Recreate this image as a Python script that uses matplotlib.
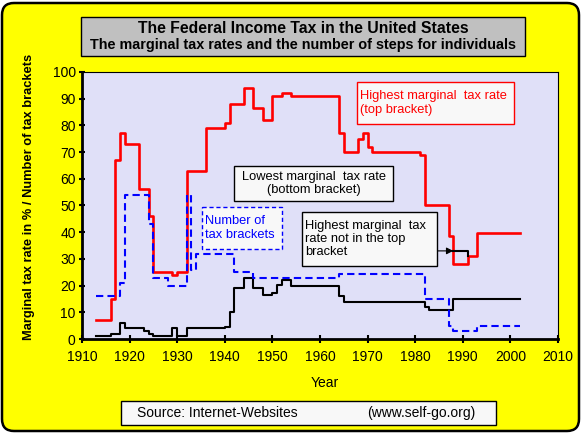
import matplotlib
matplotlib.use("Agg")
import matplotlib.pyplot as plt
from matplotlib.patches import Rectangle, FancyBboxPatch
from matplotlib.transforms import Affine2D

plt.rcParams['font.family'] = ['Liberation Sans', 'DejaVu Sans']

# Highest marginal tax rate (top bracket), value valid from the given year on
years_top = [1913, 1916, 1917, 1918, 1919, 1922, 1924, 1925, 1929, 1930, 1932,
             1936, 1940, 1941, 1944, 1946, 1948, 1950, 1952, 1954, 1964, 1965,
             1968, 1969, 1970, 1971, 1981, 1982, 1987, 1988, 1991, 1993, 2002]
top_rate = [7, 15, 67, 77, 73, 56, 46, 25, 24, 25, 63,
            79, 81, 88, 94, 86.5, 82, 91, 92, 91, 77, 70,
            75, 77, 72, 70, 69, 50, 38.5, 28, 31, 39.6, 39.6]

# Lowest marginal tax rate (bottom bracket)
years_bottom = [1913, 1916, 1918, 1919, 1923, 1924, 1925, 1929, 1930, 1932,
                1940, 1941, 1942, 1944, 1946, 1948, 1950, 1951, 1952, 1954,
                1964, 1965, 1982, 1983, 1988, 2002]
bottom_rate = [1, 2, 6, 4, 3, 2, 1, 4, 1, 4,
               4.4, 10, 19, 23, 19, 16.6, 17.4, 20.4, 22.2, 20,
               16, 14, 12, 11, 15, 15]

# Number of tax brackets
years_brackets = [1913, 1918, 1919, 1924, 1925, 1928, 1932, 1933, 1934, 1942,
                  1946, 1964, 1982, 1987, 1988, 1993, 2002]
n_brackets = [16, 21, 54, 43, 23, 20, 54, 26, 32, 25,
              23, 24.5, 15, 5, 3, 5, 5]

# Highest marginal tax rate not in the top bracket (1988-1990 "bubble")
years_bubble = [1988, 1991, 1991]
bubble_rate = [33, 33, 31]

W, H = 584, 436
fig = plt.figure(figsize=(W / 100, H / 100), dpi=100)
fig.patch.set_facecolor('white')

# pixel coordinates measured from the top-left corner
pix = Affine2D().scale(1, -1).translate(0, H)

bg = FancyBboxPatch((2, 5), 577, 428, boxstyle="round,pad=0,rounding_size=12",
                    transform=None, facecolor='#ffff00', edgecolor='black',
                    linewidth=1.8, zorder=-5)
fig.add_artist(bg)

ax = fig.add_axes([82 / W, (H - 339) / H, 476 / W, 267 / H])
ax.set_facecolor('#e0e0f8')

ax.step(years_top, top_rate, where='post', color='#ff0000', lw=1.9, zorder=3)
ax.step(years_bottom, bottom_rate, where='post', color='black', lw=1.5, zorder=4)
ax.step(years_brackets, n_brackets, where='post', color='#0000ff', lw=1.5,
        dashes=(3.5, 2), zorder=5)
ax.plot(years_bubble, bubble_rate, color='black', lw=1.5, zorder=6)

ax.set_xlim(1910, 2010)
ax.set_ylim(0, 100)
ax.set_xticks(range(1910, 2011, 10))
ax.set_yticks(range(0, 101, 10))
ax.tick_params(axis='x', direction='inout', length=6, width=1.5, pad=5,
               labelsize=10, color='black')
ax.tick_params(axis='y', direction='inout', length=5, width=1.5, pad=2,
               labelsize=10, color='black')
for s in ['left', 'bottom']:
    ax.spines[s].set_linewidth(2)
for s in ['top', 'right']:
    ax.spines[s].set_linewidth(0.8)

# arrow to the bubble
ax.annotate('', xy=(1988, 33), xytext=(1984.6, 33),
            arrowprops=dict(arrowstyle='-|>', color='black', lw=0.8,
                            mutation_scale=10, shrinkA=0, shrinkB=0),
            zorder=7)


def box(x, y, w, h, ec='black', fc='#f8f8f8', ls='-'):
    fig.add_artist(Rectangle((x, y), w, h, transform=pix, facecolor=fc,
                             edgecolor=ec, linewidth=1, linestyle=ls, zorder=5))


def label(x, y, s, **kw):
    fig.text(x, y, s, transform=pix, zorder=6, **kw)


# annotation boxes
box(357, 82, 157, 42, ec='#ff0000')
label(360, 103, 'Highest marginal  tax rate\n(top bracket)', color='#ff0000',
      fontsize=9.3, ha='left', va='center', linespacing=1.15)

box(234, 166, 159, 35)
label(313.5, 183.5, 'Lowest marginal  tax rate\n(bottom bracket)', fontsize=9.3,
      ha='center', va='center', multialignment='center', linespacing=1.15)

box(202, 207, 80, 42, ec='#0000ff', ls=(0, (3, 2)))
label(205, 228, 'Number of\ntax brackets', color='#0000ff', fontsize=9.3,
      ha='left', va='center', linespacing=1.15)

box(302, 212, 135, 54)
label(305, 239, 'Highest marginal  tax\nrate not in the top\nbracket',
      fontsize=9.3, ha='left', va='center', linespacing=1.15)

# title
box(81, 17, 444, 39, fc='#c0c0c0')
label(303, 28, 'The Federal Income Tax in the United States', fontsize=11.3,
      fontweight='bold', ha='center', va='center')
label(303, 45, 'The marginal tax rates and the number of steps for individuals',
      fontsize=10.4, fontweight='bold', ha='center', va='center')

# axis labels
label(29, 197, 'Marginal tax rate in % / Number of tax brackets', fontsize=9.3,
      fontweight='bold', rotation=90, ha='center', va='center')
label(325, 383, 'Year', fontsize=10, ha='center', va='center')

# source
box(121, 401, 375, 24)
label(137, 413, 'Source: Internet-Websites', fontsize=10, ha='left', va='center')
label(367, 413, '(www.self-go.org)', fontsize=10, ha='left', va='center')

fig.savefig('out.png', dpi=100)
